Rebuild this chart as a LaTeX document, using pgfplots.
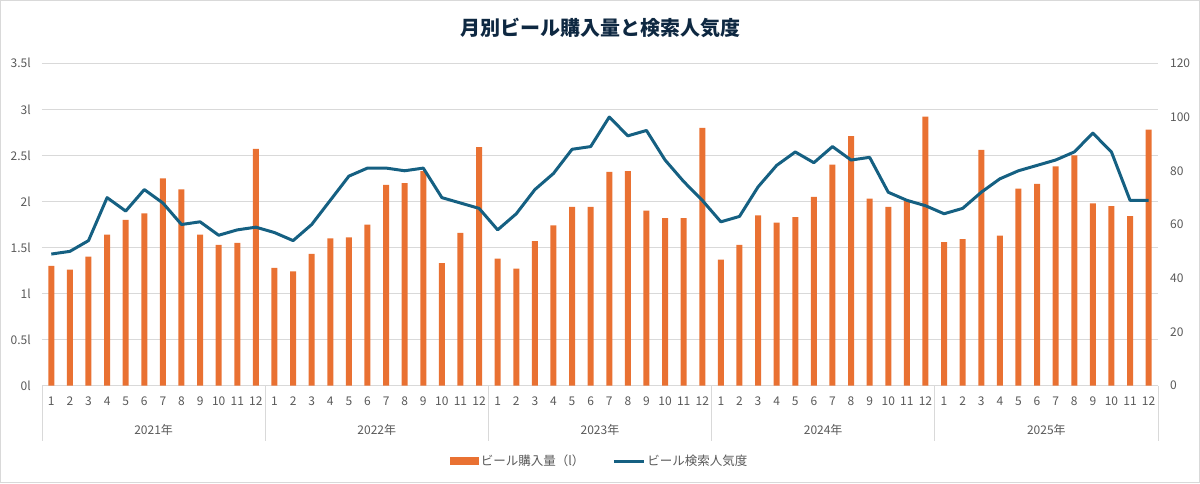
\documentclass[border=0pt]{standalone}
\usepackage{fontspec}
\setmainfont{Noto Sans CJK JP}
\usepackage{pgfplots}
\usepackage{pgfplotstable}
\pgfplotsset{compat=1.18}
\definecolor{barorange}{HTML}{E97132}
\definecolor{lineblue}{HTML}{156082}
\definecolor{gridgray}{HTML}{D9D9D9}
\definecolor{labelgray}{HTML}{595959}
\definecolor{titlecol}{HTML}{0E2841}
\newcommand\lbl{\fontsize{12}{14}\selectfont}
\pgfplotstableread{
x beer search
0 1.30 49
1 1.26 50
2 1.40 54
3 1.64 70
4 1.80 65
5 1.87 73
6 2.25 68
7 2.13 60
8 1.64 61
9 1.53 56
10 1.55 58
11 2.57 59
12 1.28 57
13 1.24 54
14 1.43 60
15 1.60 69
16 1.61 78
17 1.75 81
18 2.18 81
19 2.20 80
20 2.33 81
21 1.33 70
22 1.66 68
23 2.59 66
24 1.38 58
25 1.27 64
26 1.57 73
27 1.74 79
28 1.94 88
29 1.94 89
30 2.32 100
31 2.33 93
32 1.90 95
33 1.82 84
34 1.82 76
35 2.80 69
36 1.37 61
37 1.53 63
38 1.85 74
39 1.77 82
40 1.83 87
41 2.05 83
42 2.40 89
43 2.71 84
44 2.03 85
45 1.94 72
46 2.01 69
47 2.92 67
48 1.56 64
49 1.59 66
50 2.56 72
51 1.63 77
52 2.14 80
53 2.19 82
54 2.38 84
55 2.50 87
56 1.98 94
57 1.95 87
58 1.84 69
59 2.78 69
}\datatable
\begin{document}
\begin{tikzpicture}
\path[use as bounding box] (0,0) rectangle (1200pt,483pt);
\draw[gridgray, line width=1pt] (0.5pt,0.5pt) rectangle (1199.5pt,482.5pt);
\node[font=\fontsize{20}{24}\selectfont\bfseries, text=titlecol] at (600pt,455pt) {月別ビール購入量と検索人気度};
\begin{axis}[
  at={(42pt,97.3pt)}, anchor=south west, scale only axis,
  width=1116pt, height=322.4pt,
  xmin=-0.5, xmax=59.5, ymin=0, ymax=3.5,
  axis line style={draw=none},
  ytick={0,0.5,1,1.5,2,2.5,3,3.5},
  yticklabels={0l,0.5l,1l,1.5l,2l,2.5l,3l,3.5l},
  ymajorgrids, grid style={color=gridgray, line width=0.8pt},
  xtick={0,...,59},
  xticklabels={1,2,3,4,5,6,7,8,9,10,11,12,1,2,3,4,5,6,7,8,9,10,11,12,1,2,3,4,5,6,7,8,9,10,11,12,1,2,3,4,5,6,7,8,9,10,11,12,1,2,3,4,5,6,7,8,9,10,11,12},
  major tick length=0pt,
  tick label style={font=\lbl, text=labelgray},
  yticklabel style={anchor=east, inner sep=0pt, xshift=-11pt},
  xticklabel style={anchor=north, inner sep=0pt, yshift=-11pt},
  /pgf/number format/assume math mode=true,
  clip=false,
]
\addplot[ybar, bar width=6pt, fill=barorange, draw=none] table[x=x, y=beer] {\datatable};
\draw[gridgray, line width=0.8pt] (axis cs:-0.5,0) -- ([yshift=-55.5pt]axis cs:-0.5,0);
\draw[gridgray, line width=0.8pt] (axis cs:11.5,0) -- ([yshift=-55.5pt]axis cs:11.5,0);
\draw[gridgray, line width=0.8pt] (axis cs:23.5,0) -- ([yshift=-55.5pt]axis cs:23.5,0);
\draw[gridgray, line width=0.8pt] (axis cs:35.5,0) -- ([yshift=-55.5pt]axis cs:35.5,0);
\draw[gridgray, line width=0.8pt] (axis cs:47.5,0) -- ([yshift=-55.5pt]axis cs:47.5,0);
\draw[gridgray, line width=0.8pt] (axis cs:59.5,0) -- ([yshift=-55.5pt]axis cs:59.5,0);
\node[font=\lbl, text=labelgray] at ([yshift=-44.5pt]axis cs:5.5,0) {2021年};
\node[font=\lbl, text=labelgray] at ([yshift=-44.5pt]axis cs:17.5,0) {2022年};
\node[font=\lbl, text=labelgray] at ([yshift=-44.5pt]axis cs:29.5,0) {2023年};
\node[font=\lbl, text=labelgray] at ([yshift=-44.5pt]axis cs:41.5,0) {2024年};
\node[font=\lbl, text=labelgray] at ([yshift=-44.5pt]axis cs:53.5,0) {2025年};
\end{axis}
\begin{axis}[
  at={(42pt,97.3pt)}, anchor=south west, scale only axis,
  width=1116pt, height=322.4pt,
  xmin=-0.5, xmax=59.5, ymin=0, ymax=120,
  axis line style={draw=none},
  axis y line*=right,
  axis x line=none,
  ytick={0,20,40,60,80,100,120},
  major tick length=0pt,
  tick label style={font=\lbl, text=labelgray},
  yticklabel style={anchor=west, inner sep=0pt, xshift=12pt},
  /pgf/number format/assume math mode=true,
  clip=false,
  legend columns=2,
  legend style={at={(0.5,-0.2336)}, anchor=center, draw=none, fill=none,
    font=\fontsize{12.5}{15}\selectfont, text=labelgray,
    /tikz/every even column/.append style={column sep=26pt}},
  legend cell align=left,
]
\addlegendimage{legend image code/.code={\fill[barorange] (0pt,-3.5pt) rectangle (28pt,3.5pt);}}
\addlegendentry{ビール購入量（l）}
\addplot[color=lineblue, line width=3pt, line join=round,
  legend image code/.code={\draw[lineblue, line width=3pt] (0pt,0pt) -- (30pt,0pt);}]
  table[x=x, y=search] {\datatable};
\addlegendentry{ビール検索人気度}
\end{axis}
\end{tikzpicture}
\end{document}
